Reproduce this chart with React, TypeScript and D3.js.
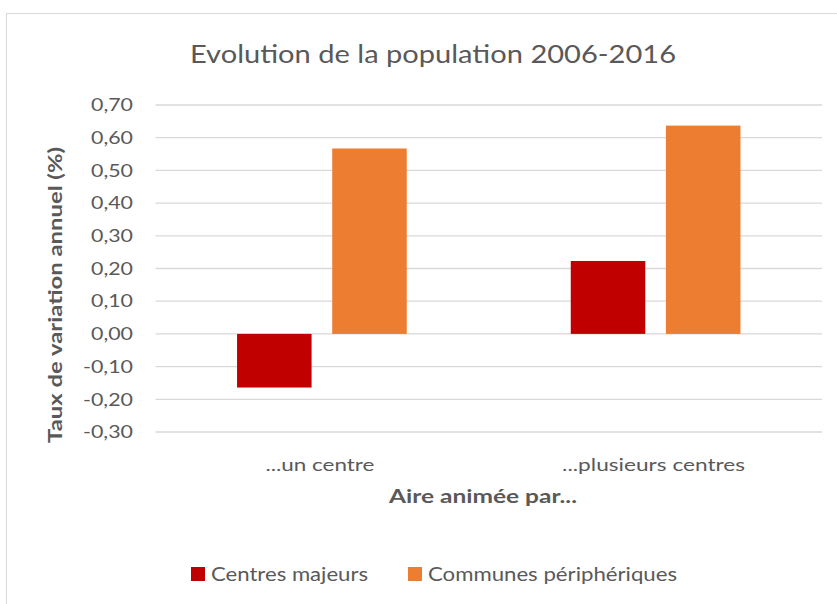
import React from "react";
import * as d3 from "d3";

const categories = ["...un centre", "...plusieurs centres"];
const seriesNames = ["Centres majeurs", "Communes périphériques"];
const centresMajeurs = [-0.164, 0.223];
const communesPeripheriques = [0.567, 0.637];
const yTicks = [-0.3, -0.2, -0.1, 0, 0.1, 0.2, 0.3, 0.4, 0.5, 0.6, 0.7];
const colors = ["#C00000", "#ED7D31"];

const W = 837;
const H = 604;
const FONT = "Lato, 'Open Sans', sans-serif";
const GREY = "#595959";

export default function App() {
  const left = 155.5;
  const right = 822;
  const top = 105;
  const bottom = 432;
  const x0 = d3.scaleBand<string>().domain(categories).range([left, right]).paddingInner(0.4915).paddingOuter(0.2444);
  const y = d3.scaleLinear().domain([-0.3, 0.7]).range([bottom, top]);
  const series = [centresMajeurs, communesPeripheriques];
  const x1 = d3.scaleBand<number>().domain([0, 1]).range([0, x0.bandwidth()]).paddingInner(0.217);
  const fmt = (v: number) => d3.format(".2f")(v).replace(".", ",").replace("−", "-");
  const catLen = [109, 183];
  const legLen = [157, 249];
  const legX = [191, 408];

  return (
    <svg width={W} height={H} style={{ position: "absolute", left: 0, top: 0, fontFamily: FONT }}>
      <rect x={0} y={0} width={W} height={H} fill="#fff" />
      <rect x={6.5} y={13.5} width={W + 10} height={H + 10} fill="#fff" stroke="#d9d9d9" strokeWidth={1} />
      <text x={433} y={63} textAnchor="middle" fontSize={25} fill={GREY} textLength={486} lengthAdjust="spacingAndGlyphs">
        Evolution de la population 2006-2016
      </text>
      {yTicks.map((t) => (
        <g key={t}>
          <line x1={left} x2={right} y1={y(t)} y2={y(t)} stroke="#d9d9d9" strokeWidth={1.3} />
          <text x={133} y={y(t) + 6.2} textAnchor="end" fontSize={17.5} fill={GREY} textLength={t < 0 ? 50 : 42} lengthAdjust="spacingAndGlyphs">
            {fmt(t)}
          </text>
        </g>
      ))}
      {categories.map((c, i) => (
        <g key={c}>
          {series.map((s, j) => {
            const v = s[i];
            const xx = (x0(c) as number) + (x1(j) as number);
            return (
              <rect key={j} x={xx} width={x1.bandwidth()} y={Math.min(y(v), y(0))} height={Math.abs(y(v) - y(0))} fill={colors[j]} />
            );
          })}
          <text x={(x0(c) as number) + x0.bandwidth() / 2 - 2} y={471} textAnchor="middle" fontSize={18} fill={GREY} textLength={catLen[i]} lengthAdjust="spacingAndGlyphs">
            {c}
          </text>
        </g>
      ))}
      <text x={483} y={503} textAnchor="middle" fontSize={18.5} fontWeight="bold" fill={GREY} textLength={188} lengthAdjust="spacingAndGlyphs">
        Aire animée par...
      </text>
      <text transform="translate(62,295) rotate(-90)" textAnchor="middle" fontSize={18.5} fontWeight="bold" fill={GREY} textLength={296} lengthAdjust="spacingAndGlyphs">
        Taux de variation annuel (%)
      </text>
      {seriesNames.map((n, j) => (
        <g key={n}>
          <rect x={legX[j]} y={567} width={14} height={14} fill={colors[j]} />
          <text x={legX[j] + 20} y={581} fontSize={18.5} fill={GREY} textLength={legLen[j]} lengthAdjust="spacingAndGlyphs">
            {n}
          </text>
        </g>
      ))}
    </svg>
  );
}
